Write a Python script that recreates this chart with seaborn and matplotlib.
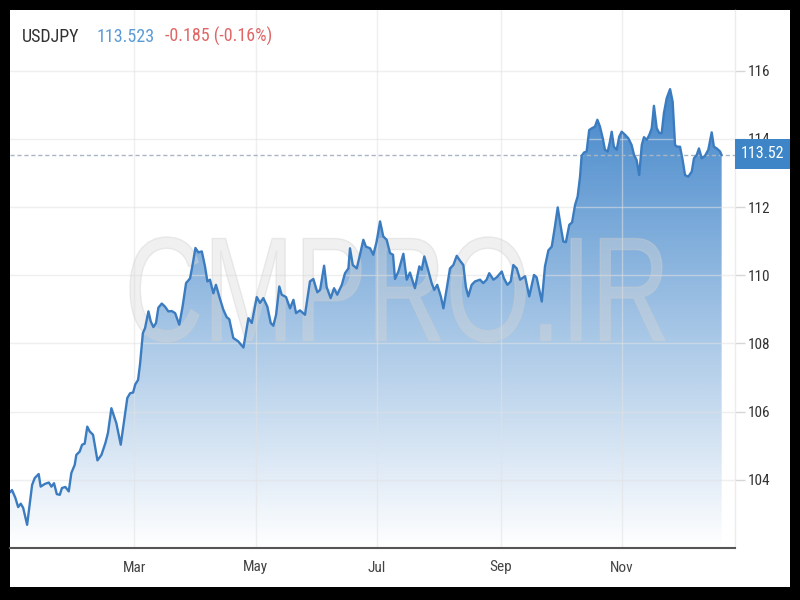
import numpy as np
import pandas as pd
import matplotlib
matplotlib.use("Agg")
import matplotlib.pyplot as plt
import matplotlib.dates as mdates
from matplotlib import font_manager as fm
from matplotlib.colors import LinearSegmentedColormap
from matplotlib.patches import Rectangle, PathPatch
from matplotlib.textpath import TextPath
from matplotlib.transforms import Affine2D
import seaborn as sns

# ---------------- data (days since 2021-01-01, USDJPY close) ----------------
days = [-3.4, -2.3, -0.6, 0.8, 2.1, 3.3, 5.3, 6.6, 7.8, 9.1, 11.1, 12.1, 14.2, 16.2, 17.5,
        18.8, 20.2, 21.7, 22.8, 24.5, 26.2, 27.5, 29.2, 30.0, 31.7, 32.9, 34.2, 35.5, 36.7,
        38.4, 40.6, 42.6, 44.6, 45.9, 47.6, 50.1, 52.3, 54.3, 55.6, 57.0, 58.5, 59.6, 61.0,
        62.0, 63.4, 64.5, 66.2, 67.4, 68.7, 70.0, 71.2, 72.9, 74.5, 76.2, 77.9, 79.6, 81.7,
        83.4, 85.1, 87.1, 88.5, 89.8, 91.3, 93.0, 94.6, 95.8, 97.1, 98.8, 100.1, 101.8,
        103.8, 105.5, 106.8, 108.8, 111.3, 113.9, 116.4, 118.1, 120.6, 122.2, 123.9, 125.9,
        127.6, 128.9, 130.3, 131.9, 133.1, 135.3, 137.3, 139.0, 140.3, 142.3, 144.8, 147.3,
        149.0, 151.0, 152.4, 154.4, 155.7, 157.7, 159.4, 161.0, 163.3, 164.9, 166.6, 167.4,
        168.8, 170.8, 172.4, 174.1, 175.4, 177.5, 179.1, 180.8, 182.5, 184.1, 185.8, 187.5,
        189.0, 190.0, 191.7, 194.2, 195.9, 197.5, 200.0, 202.2, 203.4, 204.7, 206.4, 208.4,
        209.7, 211.2, 213.0, 214.3, 216.0, 217.6, 219.3, 221.0, 222.6, 224.3, 225.6, 226.8,
        228.5, 230.2, 232.7, 234.3, 236.0, 237.3, 239.4, 241.1, 243.6, 244.7, 246.4, 248.1,
        249.4, 251.1, 252.8, 255.3, 257.4, 259.8, 261.1, 263.7, 265.3, 267.0, 268.7, 270.3,
        271.7, 273.2, 274.5, 275.8, 277.5, 278.9, 280.4, 281.7, 282.9, 283.7, 284.9, 286.2,
        287.5, 288.8, 290.4, 291.6, 292.9, 294.3, 295.4, 296.8, 297.9, 298.8, 299.9, 301.3,
        302.6, 303.8, 305.5, 307.1, 308.8, 310.0, 311.3, 312.6, 313.9, 315.0, 316.4, 317.7,
        318.9, 320.0, 321.4, 322.7, 323.9, 325.0, 326.4, 328.1, 329.4, 330.6, 331.7, 333.1,
        334.4, 335.6, 337.2, 339.0, 340.1, 341.5, 342.6, 344.0, 345.6, 347.3, 349.0, 350.1,
        351.5, 353.2, 354.0]
prices = [103.63, 103.70, 103.47, 103.20, 103.30, 103.18, 102.68, 103.30, 103.85, 104.05,
          104.17, 103.80, 103.88, 103.92, 103.80, 103.90, 103.58, 103.56, 103.76, 103.79,
          103.66, 104.20, 104.44, 104.73, 104.83, 105.03, 105.06, 105.56, 105.42, 105.32,
          104.57, 104.73, 105.08, 105.38, 106.10, 105.66, 105.03, 105.86, 106.40, 106.54,
          106.56, 106.80, 106.93, 107.40, 108.30, 108.45, 108.94, 108.64, 108.48, 108.60,
          109.05, 109.17, 109.08, 108.94, 108.95, 108.89, 108.55, 109.10, 109.77, 109.91,
          110.35, 110.80, 110.67, 110.70, 110.26, 109.82, 109.87, 109.47, 109.72, 109.37,
          108.99, 108.77, 108.71, 108.16, 108.06, 107.88, 108.74, 108.60, 109.36, 109.19,
          109.33, 109.08, 108.60, 108.52, 108.84, 109.67, 109.43, 109.36, 109.03, 109.28,
          108.89, 108.97, 108.84, 109.82, 109.89, 109.50, 109.57, 110.28, 109.65, 109.33,
          109.62, 109.43, 109.72, 110.06, 110.20, 110.79, 110.30, 110.20, 110.60, 111.04,
          110.84, 110.79, 110.60, 110.99, 111.58, 111.14, 111.04, 110.65, 110.60, 109.89,
          110.11, 110.63, 109.87, 110.08, 109.62, 110.26, 110.16, 110.55, 110.20, 109.77,
          109.57, 109.72, 109.38, 109.03, 109.62, 110.20, 110.30, 110.57, 110.43, 110.30,
          109.65, 109.38, 109.72, 109.82, 109.87, 109.77, 109.87, 110.06, 109.87, 109.94,
          110.11, 109.91, 109.72, 109.82, 110.30, 110.20, 109.87, 109.97, 109.38, 110.01,
          109.94, 109.23, 110.26, 110.73, 110.84, 111.43, 111.99, 111.43, 110.99, 110.97,
          111.48, 111.55, 112.06, 112.31, 112.89, 113.50, 113.60, 113.63, 114.26, 114.31,
          114.36, 114.56, 114.36, 114.02, 113.68, 113.63, 113.92, 114.21, 113.77, 113.68,
          114.07, 114.21, 114.12, 114.02, 113.82, 113.53, 113.38, 112.94, 113.82, 114.05,
          113.97, 114.12, 114.31, 114.97, 114.31, 114.17, 114.17, 114.75, 115.19, 115.46,
          115.09, 113.82, 113.77, 113.77, 113.38, 112.94, 112.89, 113.04, 113.43, 113.53,
          113.72, 113.43, 113.50, 113.68, 114.19, 113.77, 113.72, 113.63, 113.52]
month_ticks = ["2021-03-01", "2021-05-01", "2021-07-01", "2021-09-01", "2021-11-01"]
month_labels = ["Mar", "May", "Jul", "Sep", "Nov"]
y_ticks = [104, 106, 108, 110, 112, 114, 116]
last_value = 113.52
title_parts = ["USDJPY", "113.523", "-0.185 (-0.16%)"]
watermark = "CMPRO.IR"

# ---------------- style ----------------
sns.set_theme(style="white")


def find_narrow():
    prefs = ["Liberation Sans Narrow", "Roboto Condensed", "Open Sans Condensed",
             "DejaVu Sans Condensed", "Noto Sans Condensed"]
    entries = fm.fontManager.ttflist
    for p in prefs:
        for f in entries:
            if f.name == p and f.style == "normal" and f.weight in (400, "normal", "regular"):
                return f.fname
    for f in entries:
        if (f.stretch in ("condensed", "semi-condensed")) and "Sans" in f.name \
                and f.style == "normal" and f.weight in (400, "normal", "regular"):
            return f.fname
    return None


narrow_file = find_narrow()
if narrow_file:
    BASE = fm.FontProperties(fname=narrow_file)
    SCALE = 1.0
else:
    BASE = fm.FontProperties(family="Liberation Sans")
    SCALE = 0.86
plt.rcParams["font.family"] = ["Liberation Sans", "DejaVu Sans"]


def fp(size):
    p = BASE.copy()
    p.set_size(size * SCALE)
    return p


LINE = "#3b7cc0"
FILL_TOP = "#3c82c8"
BOX = "#3d85c6"

start = pd.Timestamp("2021-01-01")
df = pd.DataFrame({"date": start + pd.to_timedelta(days, unit="D"), "price": prices})

fig = plt.figure(figsize=(8, 6), dpi=100, facecolor="black")
fig.patches.append(Rectangle((10 / 800, 13 / 600), 780 / 800, 577 / 600,
                             transform=fig.transFigure, facecolor="white",
                             edgecolor="none", zorder=-5))

ax = fig.add_axes([10 / 800, 52 / 600, 725 / 800, 538 / 600])
ax.set_facecolor("white")

YMIN, YMAX = 102, 117.78
x0 = mdates.date2num(start + pd.Timedelta(days=-3.3))
x1 = mdates.date2num(start + pd.Timedelta(days=360.7))

sns.lineplot(data=df, x="date", y="price", ax=ax, color=LINE, lw=1.7, zorder=5)

poly = ax.fill_between(df["date"], df["price"], YMIN, facecolor="none", edgecolor="none")
cmap = LinearSegmentedColormap.from_list("g", ["#ffffff", FILL_TOP])
grad = np.linspace(0, 1, 512).reshape(-1, 1)
im = ax.imshow(grad, extent=[x0, x1, YMIN, YMAX], origin="lower", aspect="auto",
               cmap=cmap, vmin=0, vmax=(116 - YMIN) / (YMAX - YMIN), zorder=1)
im.set_clip_path(poly.get_paths()[0], ax.transData)

# grid lines over fill
for v in y_ticks:
    ax.axhline(v, color="#e2e2e2", alpha=0.55, lw=1, zorder=2)
for m in month_ticks:
    ax.axvline(mdates.date2num(pd.Timestamp(m)), color="#e2e2e2", alpha=0.55, lw=1, zorder=2)

# current value dashed line
ax.axhline(last_value, color="#a9b5c2", lw=1, ls=(0, (3, 2)), zorder=3)

# watermark
tp = TextPath((0, 0), watermark, size=100, prop=fm.FontProperties(family="Liberation Sans"))
bb = tp.get_extents()
tr = Affine2D().translate(-bb.x0, -bb.y0).scale(535 / bb.width, 105 / bb.height).translate(130, 258)
wm = PathPatch(tp, transform=tr, facecolor="#d8d8d8", edgecolor="#cfcfcf", lw=1,
               alpha=0.38, zorder=4)
ax.add_artist(wm)

ax.set_xlim(x0, x1)
ax.set_ylim(YMIN, YMAX)
ax.set_xticks([mdates.date2num(pd.Timestamp(m)) for m in month_ticks])
ax.set_xticklabels(month_labels)
ax.set_yticks(y_ticks)
ax.set_yticklabels([str(v) for v in y_ticks])
ax.yaxis.tick_right()
ax.tick_params(axis="y", length=7, width=1, color="#d6d6d6", pad=2,
               labelcolor="#333333", right=True, left=False)
ax.tick_params(axis="x", length=0, pad=9, labelcolor="#444444")
for lbl in ax.get_yticklabels() + ax.get_xticklabels():
    lbl.set_fontproperties(fp(11))
ax.set_xlabel("")
ax.set_ylabel("")
for s in ["left", "top"]:
    ax.spines[s].set_visible(False)
ax.spines["bottom"].set_color("#555555")
ax.spines["bottom"].set_linewidth(1.5)
ax.spines["right"].set_color("#ececec")
ax.spines["right"].set_linewidth(1)

# last-value box
fig.patches.append(Rectangle((735 / 800, 431 / 600), 55 / 800, 30 / 600,
                             transform=fig.transFigure, facecolor=BOX,
                             edgecolor="none", zorder=3))
fig.text(762.5 / 800, 446 / 600, f"{last_value:.2f}", color="white",
         fontproperties=fp(11.5), ha="center", va="center", zorder=4)

# header
fig.text(22 / 800, 558 / 600, title_parts[0], color="#333333", fontproperties=fp(13),
         ha="left", va="baseline")
fig.text(97 / 800, 558 / 600, title_parts[1], color="#5b9bd5", fontproperties=fp(13),
         ha="left", va="baseline")
fig.text(165 / 800, 558 / 600, title_parts[2], color="#e06666", fontproperties=fp(13),
         ha="left", va="baseline")

fig.savefig("out.png", dpi=100, facecolor=fig.get_facecolor())
